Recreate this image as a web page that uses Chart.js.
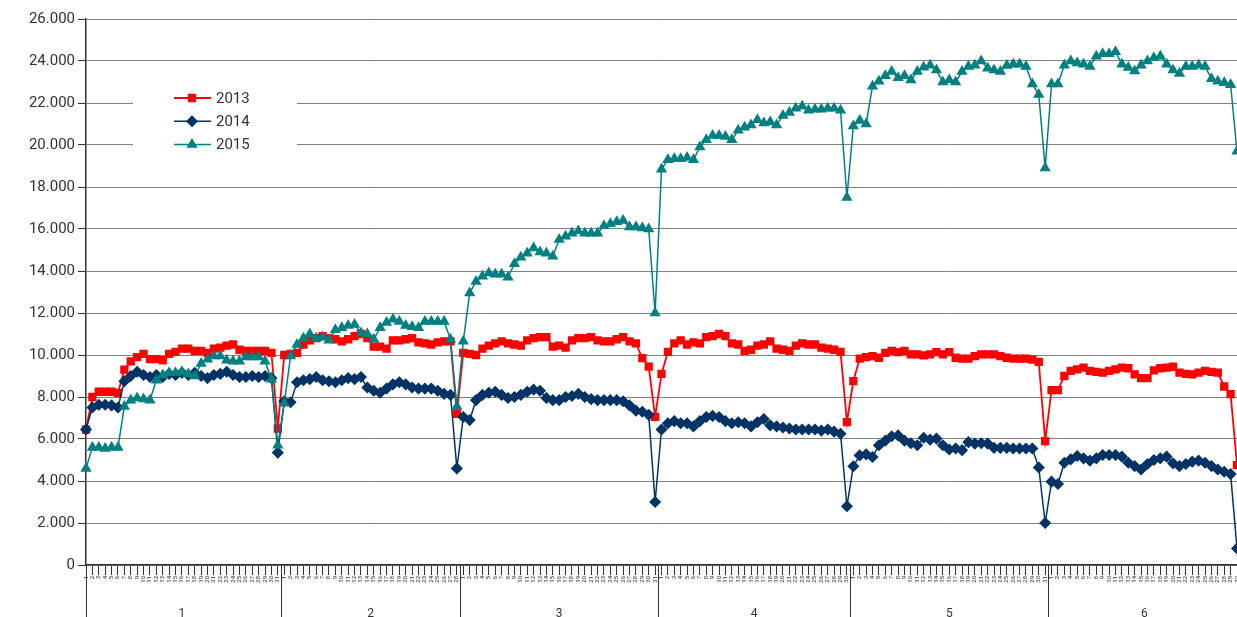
<!DOCTYPE html>
<html>
<head>
<meta charset="utf-8">
<script src="https://cdn.jsdelivr.net/npm/chart.js@4.4.1/dist/chart.umd.min.js"></script>
<style>
  html, body { margin: 0; padding: 0; background: #fff; }
  #wrap { width: 1237px; height: 617px; }
</style>
</head>
<body>
<div id="wrap"><canvas id="chart" width="1237" height="617"></canvas></div>
<script>
// months on the outer axis, days per month on the inner axis
const monthNames = ['1', '2', '3', '4', '5', '6'];
const monthDays = [31, 28, 31, 30, 31, 30];

// daily values, in thousands (axis shows 2.000, 4.000 ...)
const year2013 = [
  6.45, 8.0, 8.25, 8.25, 8.25, 8.2, 9.3, 9.7, 9.9, 10.05, 9.8, 9.8, 9.75, 10.05, 10.15, 10.3, 10.3, 10.2, 10.2, 10.1, 10.3, 10.35, 10.45, 10.5, 10.25, 10.2, 10.2, 10.2, 10.2, 10.1, 6.5,
  10.0, 10.05, 10.1, 10.5, 10.7, 10.8, 10.9, 10.8, 10.75, 10.65, 10.75, 10.9, 11.0, 10.8, 10.4, 10.4, 10.3, 10.7, 10.7, 10.75, 10.8, 10.6, 10.55, 10.5, 10.6, 10.65, 10.65, 7.2,
  10.1, 10.05, 10.0, 10.3, 10.45, 10.55, 10.65, 10.55, 10.5, 10.45, 10.7, 10.8, 10.85, 10.85, 10.4, 10.45, 10.35, 10.7, 10.8, 10.8, 10.85, 10.7, 10.65, 10.65, 10.75, 10.85, 10.65, 10.55, 9.85, 9.45, 7.05,
  9.1, 10.15, 10.55, 10.7, 10.5, 10.6, 10.55, 10.85, 10.9, 11.0, 10.9, 10.55, 10.5, 10.2, 10.25, 10.45, 10.5, 10.65, 10.3, 10.25, 10.2, 10.45, 10.55, 10.5, 10.5, 10.35, 10.3, 10.25, 10.15, 6.8,
  8.76, 9.83, 9.9, 9.95, 9.87, 10.1, 10.2, 10.14, 10.2, 10.03, 10.03, 9.98, 10.03, 10.14, 10.03, 10.14, 9.87, 9.83, 9.83, 9.95, 10.03, 10.03, 10.03, 9.95, 9.87, 9.83, 9.83, 9.83, 9.78, 9.67, 5.9,
  8.33, 8.33, 9.0, 9.24, 9.32, 9.4, 9.24, 9.2, 9.16, 9.24, 9.32, 9.4, 9.37, 9.08, 8.9, 8.9, 9.27, 9.37, 9.4, 9.44, 9.16, 9.1, 9.08, 9.16, 9.24, 9.2, 9.16, 8.5, 8.14, 4.76
];
const year2014 = [
  6.45, 7.5, 7.63, 7.63, 7.6, 7.5, 8.75, 9.0, 9.2, 9.05, 8.95, 9.05, 8.95, 9.1, 9.05, 9.15, 9.05, 9.15, 9.0, 8.9, 9.05, 9.1, 9.2, 9.05, 8.95, 8.95, 9.0, 8.95, 9.0, 8.9, 5.35,
  7.8, 7.75, 8.7, 8.8, 8.85, 8.95, 8.8, 8.75, 8.7, 8.8, 8.9, 8.85, 8.95, 8.45, 8.3, 8.2, 8.4, 8.6, 8.7, 8.6, 8.45, 8.4, 8.4, 8.4, 8.3, 8.15, 8.1, 4.6,
  7.05, 6.9, 7.85, 8.1, 8.2, 8.25, 8.1, 7.95, 8.0, 8.1, 8.25, 8.35, 8.3, 7.95, 7.85, 7.85, 8.0, 8.05, 8.15, 8.0, 7.9, 7.85, 7.85, 7.85, 7.85, 7.8, 7.6, 7.35, 7.3, 7.15, 3.0,
  6.45, 6.75, 6.85, 6.75, 6.75, 6.6, 6.85, 7.05, 7.1, 7.05, 6.85, 6.75, 6.8, 6.75, 6.6, 6.8, 6.95, 6.65, 6.6, 6.55, 6.5, 6.45, 6.45, 6.45, 6.45, 6.4, 6.45, 6.35, 6.25, 2.8,
  4.7, 5.22, 5.27, 5.14, 5.7, 5.92, 6.13, 6.17, 5.92, 5.8, 5.7, 6.06, 5.97, 6.02, 5.7, 5.5, 5.55, 5.47, 5.85, 5.78, 5.8, 5.78, 5.58, 5.58, 5.58, 5.55, 5.55, 5.55, 5.55, 4.64, 2.0,
  3.97, 3.86, 4.87, 5.03, 5.19, 5.08, 4.97, 5.08, 5.24, 5.24, 5.24, 5.16, 4.87, 4.71, 4.55, 4.81, 5.0, 5.08, 5.16, 4.84, 4.71, 4.81, 4.92, 4.97, 4.87, 4.71, 4.55, 4.44, 4.33, 0.79
];
const year2015 = [
  4.6, 5.6, 5.6, 5.55, 5.6, 5.6, 7.55, 7.85, 7.95, 7.9, 7.85, 8.8, 9.05, 9.15, 9.15, 9.2, 9.1, 9.0, 9.6, 9.8, 9.95, 9.95, 9.75, 9.7, 9.7, 9.9, 9.9, 9.9, 9.7, 8.85, 5.7,
  7.7, 9.95, 10.5, 10.8, 11.0, 10.8, 10.85, 10.7, 11.2, 11.3, 11.4, 11.45, 11.05, 11.0, 10.75, 11.3, 11.55, 11.7, 11.6, 11.4, 11.35, 11.3, 11.6, 11.6, 11.6, 11.6, 10.75, 7.55,
  10.65, 12.95, 13.5, 13.75, 13.9, 13.85, 13.85, 13.7, 14.35, 14.65, 14.85, 15.1, 14.9, 14.85, 14.7, 15.5, 15.65, 15.8, 15.9, 15.8, 15.8, 15.8, 16.15, 16.25, 16.35, 16.4, 16.1, 16.1, 16.05, 16.0, 12.0,
  18.85, 19.3, 19.35, 19.35, 19.4, 19.3, 19.9, 20.25, 20.45, 20.45, 20.4, 20.25, 20.7, 20.85, 20.95, 21.2, 21.05, 21.1, 20.95, 21.4, 21.55, 21.75, 21.85, 21.65, 21.7, 21.7, 21.75, 21.75, 21.65, 17.5,
  20.9, 21.17, 21.0, 22.8, 23.03, 23.3, 23.5, 23.2, 23.3, 23.1, 23.5, 23.7, 23.8, 23.57, 23.0, 23.1, 23.0, 23.5, 23.74, 23.8, 24.0, 23.66, 23.57, 23.5, 23.79, 23.85, 23.85, 23.74, 22.9, 22.4, 18.9,
  22.9, 22.9, 23.8, 24.0, 23.9, 23.85, 23.74, 24.23, 24.34, 24.34, 24.44, 23.85, 23.69, 23.52, 23.8, 24.0, 24.15, 24.23, 23.85, 23.57, 23.41, 23.74, 23.74, 23.8, 23.74, 23.16, 23.03, 22.97, 22.87, 19.7
];

// day labels 1..n for each month, and where each month starts / its centre
const dayLabels = [];
const monthStarts = [];
const monthMids = [];
monthDays.forEach(n => {
  const start = dayLabels.length;
  monthStarts.push(start);
  monthMids.push(start + (n - 1) / 2);
  for (let d = 1; d <= n; d++) dayLabels.push(String(d));
});

const FONT = 'Roboto, "Noto Sans", "DejaVu Sans", sans-serif';
const TEXT = '#333333';
Chart.defaults.font.family = FONT;

// no extra side padding from the tick labels: the plot runs to the canvas edge
const noPad = s => { s.paddingLeft = 0; s.paddingRight = 0; s.paddingTop = 0; s.paddingBottom = 0; };

// separators between the month groups, below the plot
const monthSeparators = {
  id: 'monthSeparators',
  afterDraw(chart) {
    const c = chart.ctx;
    const s = chart.scales.x2;
    const area = chart.chartArea;
    c.save();
    c.strokeStyle = '#333';
    c.lineWidth = 1;
    monthStarts.forEach(b => {
      let x = b === 0 ? area.left : s.getPixelForValue(b - 0.5);
      x = Math.round(x) + 0.5;
      c.beginPath();
      c.moveTo(x, area.bottom);
      c.lineTo(x, chart.height);
      c.stroke();
    });
    c.restore();
  }
};

// legend inside the plot, on a white box
const insideLegend = {
  id: 'insideLegend',
  afterDraw(chart) {
    const c = chart.ctx;
    c.save();
    c.fillStyle = '#fff';
    c.fillRect(133, 76, 164, 92);
    c.font = '15px ' + FONT;
    c.textBaseline = 'middle';
    chart.data.datasets.forEach((ds, i) => {
      const y = 98 + i * 23.3;
      c.strokeStyle = ds.borderColor;
      c.lineWidth = ds.borderWidth;
      c.beginPath();
      c.moveTo(174, y);
      c.lineTo(211, y);
      c.stroke();
      c.fillStyle = ds.backgroundColor;
      c.strokeStyle = ds.borderColor;
      Chart.helpers.drawPoint(c, { pointStyle: ds.pointStyle, radius: ds.pointRadius, borderWidth: 1 }, 192, y);
      c.fillStyle = TEXT;
      c.fillText(ds.label, 216, y + 1);
    });
    c.restore();
  }
};

new Chart(document.getElementById('chart'), {
  type: 'line',
  data: {
    labels: dayLabels,
    datasets: [
      { label: '2013', data: year2013, borderColor: '#ff0000', backgroundColor: '#ff0000',
        pointStyle: 'rect', pointRadius: 4.6, borderWidth: 1.8, order: 3 },
      { label: '2014', data: year2014, borderColor: '#003366', backgroundColor: '#003366',
        pointStyle: 'rectRot', pointRadius: 5, borderWidth: 1.5, order: 2 },
      { label: '2015', data: year2015, borderColor: '#008080', backgroundColor: '#008080',
        pointStyle: 'triangle', pointRadius: 5, borderWidth: 1.5, order: 1 },
    ],
  },
  options: {
    responsive: false,
    animation: false,
    devicePixelRatio: 1,
    layout: { autoPadding: false, padding: { top: 19, right: 0, left: 0, bottom: 0 } },
    elements: {
      line: { tension: 0 },
      point: { borderWidth: 1, hoverRadius: 5 },
    },
    plugins: {
      legend: { display: false },
      tooltip: { enabled: false },
    },
    scales: {
      x: {
        type: 'category',
        offset: false,
        grid: { drawOnChartArea: false, tickLength: 10, color: '#333' },
        border: { color: '#333', width: 1.5 },
        ticks: { autoSkip: false, minRotation: 90, maxRotation: 90, padding: 1,
                 font: { size: 6 }, color: TEXT },
        afterFit: s => { s.height = 26; noPad(s); },
      },
      x2: {
        type: 'linear',
        position: 'bottom',
        min: 0,
        max: dayLabels.length - 1,
        grid: { display: false },
        border: { display: false },
        afterBuildTicks: s => { s.ticks = monthMids.map(v => ({ value: v })); },
        ticks: { autoSkip: false, maxRotation: 0, padding: 8, font: { size: 12 }, color: TEXT,
                 callback: (v, i) => monthNames[i] },
        afterFit: s => { s.height = 26; noPad(s); },
      },
      y: {
        min: 0,
        max: 26,
        grid: { color: '#808080', tickLength: 8, tickColor: '#333' },
        border: { color: '#333', width: 1.5 },
        ticks: { stepSize: 2, padding: 3, font: { size: 15 }, color: TEXT,
                 callback: v => (v === 0 ? '0' : v + '.000') },
        afterFit: s => { s.width = 86; noPad(s); },
      },
    },
  },
  plugins: [monthSeparators, insideLegend],
});
</script>
</body>
</html>
